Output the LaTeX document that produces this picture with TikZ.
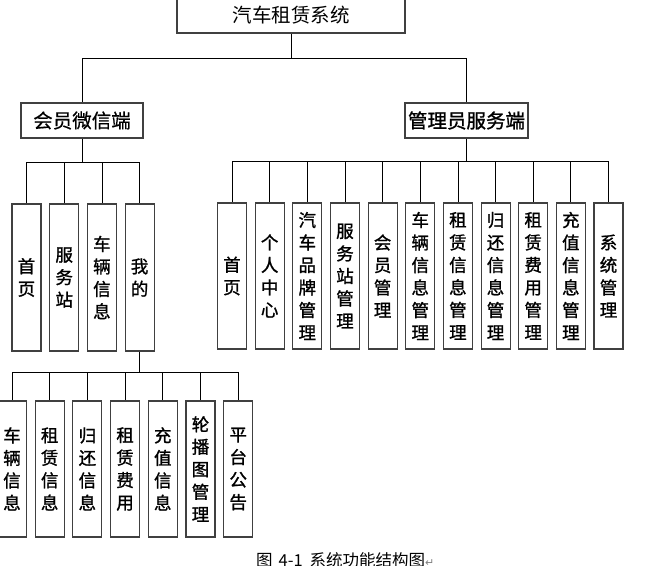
\documentclass[tikz,border=0pt]{standalone}
\usepackage{fontspec}
\setmainfont{Noto Sans CJK SC}
\newfontfamily\cjkbold{Noto Sans CJK SC}[FakeBold=1.2]
\newfontfamily\cjkmid{Noto Sans CJK SC}[FakeBold=0.5]
\newfontfamily\symfont{DejaVu Sans}
\begin{document}
\begin{tikzpicture}[x=1pt,y=-1pt]
\tikzset{
  box/.style={draw=black!75, line width=1.1pt, fill=white, inner sep=0pt, align=center},
  headbox/.style={box, font=\fontsize{19.5pt}{22pt}\selectfont},
  vbox/.style={box, minimum width=29pt, font=\cjkbold\fontsize{17.5pt}{22.5pt}\selectfont},
  link/.style={draw=black, line width=0.8pt},
}
\useasboundingbox (0,0) rectangle (666,565);
% top levels
\node[headbox, minimum width=228pt, minimum height=36pt] (root) at (291,15) {汽车租赁系统};
\node[headbox, minimum width=122pt, minimum height=35pt, font=\cjkmid\fontsize{19.5pt}{22pt}\selectfont] (member) at (82,120.5) {会员微信端};
\node[headbox, minimum width=123pt, minimum height=35pt, font=\cjkbold\fontsize{19.5pt}{22pt}\selectfont] (admin) at (466.5,120.5) {管理员服务端};
\draw[link] (root.south) -- ++(0,25) coordinate (rb);
\draw[link] (rb) -| (member.north);
\draw[link] (rb) -| (admin.north);
% member children
\draw[link] (member.south) -- ++(0,24) coordinate (mb);
\foreach \t [count=\i] in {{首\\页},{服\\务\\站},{车\\辆\\信\\息},{我\\的}}{
  \node[vbox, minimum height=147pt] (m\i) at ({26.5+37.7*(\i-1)},277.5) {\t};
  \draw[link] (mb) -| (m\i.north);
}
% admin children
\draw[link] (admin.south) -- ++(0,23) coordinate (ab);
\foreach \t [count=\i] in {{首\\页},{个\\人\\中\\心},{汽\\车\\品\\牌\\管\\理},{服\\务\\站\\管\\理},{会\\员\\管\\理},{车\\辆\\信\\息\\管\\理},{租\\赁\\信\\息\\管\\理},{归\\还\\信\\息\\管\\理},{租\\赁\\费\\用\\管\\理},{充\\值\\信\\息\\管\\理},{系\\统\\管\\理}}{
  \node[vbox, minimum height=146pt] (a\i) at ({232+37.65*(\i-1)},276) {\t};
  \draw[link] (ab) -| (a\i.north);
}
% grandchildren of 我的
\draw[link] (m4.south) -- ++(0,21) coordinate (gb);
\foreach \t [count=\i] in {{车\\辆\\信\\息},{租\\赁\\信\\息},{归\\还\\信\\息},{租\\赁\\费\\用},{充\\值\\信\\息},{轮\\播\\图\\管\\理},{平\\台\\公\\告}}{
  \node[vbox, minimum height=136pt] (g\i) at ({12+37.7*(\i-1)},469) {\t};
  \draw[link] (gb) -| (g\i.north);
}
% caption
\node[font=\fontsize{16.5pt}{18pt}\selectfont, anchor=north west, inner sep=0pt] (cap) at (256,552) {图\hspace{4pt}\makebox[28pt][c]{4-1}\hspace{5pt}系统功能结构图{\symfont\fontsize{11pt}{12pt}\selectfont\textcolor{gray}{↵}}};
\end{tikzpicture}
\end{document}
